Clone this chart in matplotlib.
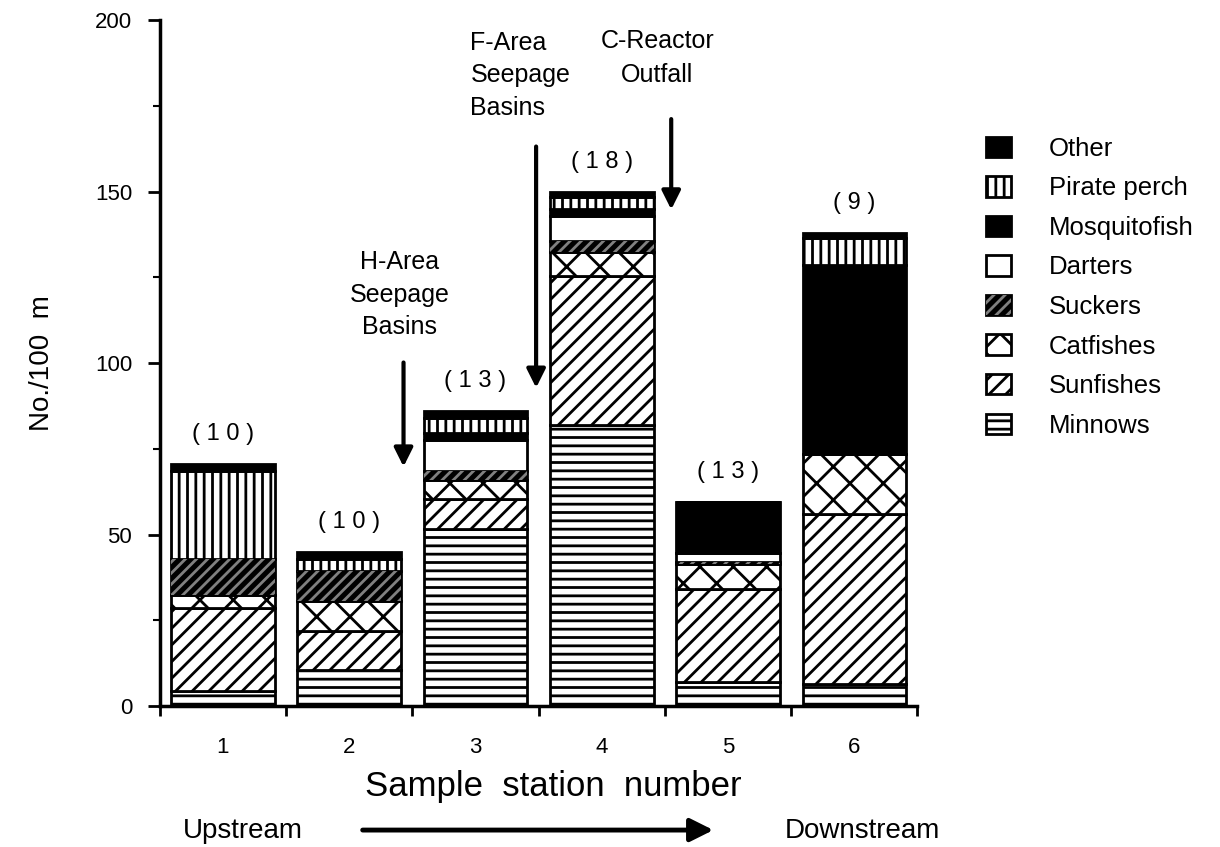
import numpy as np
import matplotlib.pyplot as plt
from matplotlib.patches import Patch, FancyArrowPatch
from matplotlib.legend_handler import HandlerTuple

plt.rcParams['font.family'] = ['Liberation Sans', 'DejaVu Sans']
plt.rcParams['hatch.linewidth'] = 2.0

# Datos: peces por 100 m en cada estación
stations = [1, 2, 3, 4, 5, 6]
n_species = ['( 1 0 )', '( 1 0 )', '( 1 3 )', '( 1 8 )', '( 1 3 )', '( 9 )']

minnows = [4.5, 10.5, 51.5, 82, 7, 6.5]
sunfishes = [24, 11.5, 9, 43.5, 27, 49.5]
catfishes = [4, 8.5, 5.5, 7, 7.5, 17.5]
suckers = [10.5, 9, 2.5, 3, 0.5, 0]
darters = [0, 0, 9, 7.5, 2.5, 0]
mosquitofish = [0, 0, 2, 2, 15, 55]
pirate_perch = [25.5, 3.5, 4.5, 3.5, 0, 8]
other = [2, 2, 2, 1.5, 0, 1.5]

groups = ['Minnows', 'Sunfishes', 'Catfishes', 'Suckers', 'Darters',
          'Mosquitofish', 'Pirate perch', 'Other']
values = [minnows, sunfishes, catfishes, suckers, darters,
          mosquitofish, pirate_perch, other]
faces = ['white', 'white', 'white', 'black', 'white', 'black', 'white', 'black']
hatches = ['--', '//', 'x', None, None, None, '||', None]

fig = plt.figure(figsize=(12.2, 8.47), dpi=100)
ax = fig.add_axes([0.131, 0.1665, 0.621, 0.8095])

x = np.array(stations)
width = 0.82
bottom = np.zeros(len(stations))
for name, vals, fc, h in zip(groups, values, faces, hatches):
    vals = np.array(vals, dtype=float)
    ax.bar(x, vals, width, bottom=bottom, color=fc, edgecolor='black',
           linewidth=2, hatch=h, zorder=2)
    if name == 'Suckers':
        # rayado gris sobre fondo negro
        ax.bar(x, vals, width, bottom=bottom, fill=False, edgecolor='0.5',
               linewidth=0, hatch='///', zorder=3)
    bottom += vals

totals = bottom
for xi, t, lab in zip(x, totals, n_species):
    ax.text(xi, t + 5.5, lab, ha='center', va='bottom', fontsize=17)

# Flechas de las fuentes de contaminación
ax.annotate('', xy=(2.43, 69), xytext=(2.43, 101),
            arrowprops=dict(arrowstyle='-|>', color='black', lw=3, mutation_scale=28))
ax.text(2.40, 120, 'H-Area\nSeepage\nBasins', ha='center', va='center', fontsize=18,
        linespacing=1.45)
ax.annotate('', xy=(3.48, 92), xytext=(3.48, 164),
            arrowprops=dict(arrowstyle='-|>', color='black', lw=3, mutation_scale=28))
ax.text(2.96, 184, 'F-Area\nSeepage\nBasins', ha='left', va='center', fontsize=18,
        linespacing=1.45)
ax.annotate('', xy=(4.55, 144), xytext=(4.55, 172),
            arrowprops=dict(arrowstyle='-|>', color='black', lw=3, mutation_scale=28))
ax.text(4.44, 189, 'C-Reactor\nOutfall', ha='center', va='center', fontsize=18,
        linespacing=1.5)

ax.set_xlim(0.5, 6.5)
ax.set_ylim(0, 200)
ax.set_xticks(stations)
ax.set_xticklabels([str(s) for s in stations], fontsize=16)
ax.set_xticks(np.arange(0.5, 7, 1), minor=True)
ax.tick_params(axis='x', which='major', length=0, pad=22)
ax.tick_params(axis='x', which='minor', length=7, width=2)
ax.set_yticks([0, 50, 100, 150, 200])
ax.set_yticks(np.arange(25, 200, 50), minor=True)
ax.tick_params(axis='y', which='major', length=9, width=2, labelsize=16, pad=11)
ax.tick_params(axis='y', which='minor', length=5, width=1.5)
for s in ['top', 'right']:
    ax.spines[s].set_visible(False)
for s in ['left', 'bottom']:
    ax.spines[s].set_linewidth(2.5)

ax.set_xlabel('Sample  station  number', fontsize=25)
ax.xaxis.set_label_coords(0.52, -0.094)
ax.set_ylabel('No./100  m', fontsize=20)
ax.yaxis.set_label_coords(-0.138, 0.5)

fig.text(0.15, 0.004, 'Upstream', fontsize=20, ha='left', va='bottom')
fig.text(0.707, 0.004, 'Downstream', fontsize=20, ha='center', va='bottom')
fig.patches.append(FancyArrowPatch(
    (0.295, 0.02), (0.587, 0.02), transform=fig.transFigure,
    arrowstyle='-|>', mutation_scale=35, color='black', lw=3.5))

# Leyenda
handles = []
for name, fc, h in zip(groups, faces, hatches):
    p = Patch(facecolor=fc, edgecolor='black', linewidth=2, hatch=h, label=name)
    if name == 'Suckers':
        p2 = Patch(fill=False, edgecolor='0.5', linewidth=0, hatch='///')
        p = (p, p2)
    handles.append(p)
handles = handles[::-1]
fig.legend(handles=handles, labels=groups[::-1], loc='upper left',
           bbox_to_anchor=(0.789, 0.866), frameon=False, fontsize=18.5,
           handlelength=1.0, handleheight=0.85, labelspacing=0.6,
           handletextpad=1.45, handler_map={tuple: HandlerTuple(ndivide=1, pad=0)})

fig.savefig('out.png', dpi=100)
